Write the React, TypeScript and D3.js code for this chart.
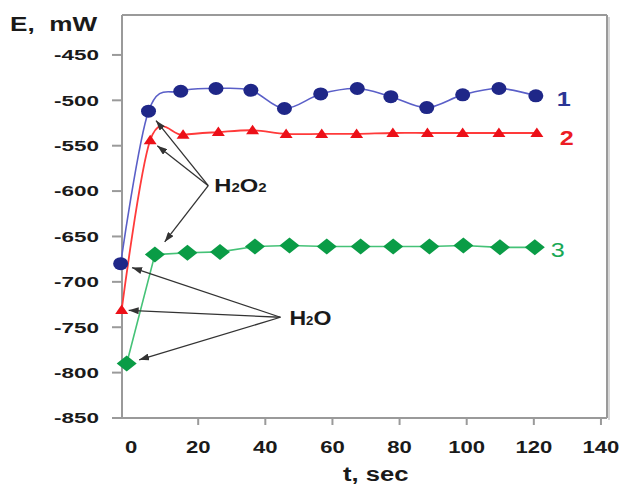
import React from 'react';
import * as d3 from 'd3';

// ---- data ----
const blueT = [-3.1, 5.2, 14.8, 25.3, 35.7, 45.7, 56.5, 67.4, 77.4, 88.1, 98.8, 109.6, 120.6];
const blueE = [-680, -512, -490, -487, -489, -509, -493, -487, -496, -508, -494, -487, -495];

const redT = [-2.8, 5.7, 15.5, 26.0, 36.2, 46.2, 56.8, 67.2, 78.0, 88.3, 98.8, 109.6, 120.9];
const redE = [-731, -544, -538, -535, -533, -537, -537, -537, -536, -536, -536, -536, -536];

const greenT = [-1.3, 7.1, 16.8, 26.5, 36.9, 47.2, 58.3, 68.4, 78.1, 88.9, 99.0, 109.9, 120.3];
const greenE = [-790, -670, -668, -667, -661, -660, -661, -661, -661, -661, -660, -662, -662];

const yTicks = [-450, -500, -550, -600, -650, -700, -750, -800, -850];
const xTicks = [0, 20, 40, 60, 80, 100, 120, 140];
const seriesLabels = ['1', '2', '3'];

// annotation anchors (data coords)
const h2o2Origin: [number, number] = [23, -594];
const h2oOrigin: [number, number] = [44.5, -739];

const FONT = 'Liberation Sans, Arial, Helvetica, sans-serif';

const x = d3.scaleLinear().domain([-2.7, 141.8]).range([122, 607]);
const y = d3.scaleLinear().domain([-850, -406]).range([418, 15]);

type Pt = [number, number];
const zip = (t: number[], e: number[]): Pt[] => t.map((v, i) => [v, e[i]]);

const blue = zip(blueT, blueE);
const red = zip(redT, redE);
const green = zip(greenT, greenE);

const smooth = d3
  .line<Pt>()
  .x((d) => x(d[0]))
  .y((d) => y(d[1]))
  .curve(d3.curveCatmullRom.alpha(0));
const straight = d3
  .line<Pt>()
  .x((d) => x(d[0]))
  .y((d) => y(d[1]));

const C = {
  blueLine: '#5a5fc8',
  blueMark: '#1f2788',
  redLine: '#ff3a3a',
  redMark: '#ec1018',
  greenLine: '#45c277',
  greenMark: '#0a9c46',
  axis: '#9a9a9a',
  arrow: '#333333',
  text: '#1a1a1a',
};

function SText(props: {
  x: number;
  y: number;
  sx: number;
  size: number;
  anchor?: string;
  fill?: string;
  weight?: string | number;
  dy?: string;
  children: React.ReactNode;
}) {
  const { x: px, y: py, sx, size, anchor = 'start', fill = C.text, weight = 'bold', dy, children } = props;
  return (
    <g transform={`translate(${px},${py}) scale(${sx},1)`}>
      <text
        x={0}
        y={0}
        dy={dy}
        textAnchor={anchor}
        fontFamily={FONT}
        fontSize={size}
        fontWeight={weight}
        fill={fill}
        style={{ whiteSpace: 'pre' }}
      >
        {children}
      </text>
    </g>
  );
}

function Arrow({ from, to, gap }: { from: Pt; to: Pt; gap: number }) {
  const x1 = x(from[0]);
  const y1 = y(from[1]);
  const x2 = x(to[0]);
  const y2 = y(to[1]);
  const len = Math.hypot(x2 - x1, y2 - y1);
  const k = (len - gap) / len;
  return (
    <line
      x1={x1}
      y1={y1}
      x2={x1 + (x2 - x1) * k}
      y2={y1 + (y2 - y1) * k}
      stroke={C.arrow}
      strokeWidth={1.3}
      markerEnd="url(#ah)"
    />
  );
}

export default function App() {
  const x0 = x.range()[0];
  const x1 = x.range()[1];
  const yB = y.range()[0];
  const yT = y.range()[1];

  const triPath = (cx: number, cy: number) =>
    `M${cx},${cy - 5.5} L${cx + 6.5},${cy + 4} L${cx - 6.5},${cy + 4} Z`;
  const diaPath = (cx: number, cy: number) =>
    `M${cx},${cy - 8} L${cx + 10},${cy} L${cx},${cy + 8} L${cx - 10},${cy} Z`;

  const lastB = blue[blue.length - 1];
  const lastR = red[red.length - 1];
  const lastG = green[green.length - 1];

  return (
    <svg
      width={620}
      height={488}
      viewBox="0 0 620 488"
      style={{ position: 'absolute', left: 0, top: 0, background: '#ffffff' }}
    >
      <defs>
        <marker
          id="ah"
          viewBox="0 0 10 7"
          refX={10}
          refY={3.5}
          markerWidth={10}
          markerHeight={7}
          markerUnits="userSpaceOnUse"
          orient="auto"
        >
          <path d="M0,0 L10,3.5 L0,7 Z" fill={C.arrow} />
        </marker>
      </defs>

      {/* frame */}
      <line x1={x1 + 2} y1={yT + 2} x2={x1 + 2} y2={yB + 2} stroke="#d6d6d6" strokeWidth={2} />
      <line x1={x0} y1={yT} x2={x1} y2={yT} stroke={C.axis} strokeWidth={2} />
      <line x1={x1} y1={yT} x2={x1} y2={yB} stroke={C.axis} strokeWidth={2} />
      <line x1={x0} y1={yT} x2={x0} y2={yB} stroke={C.axis} strokeWidth={2} />
      <line x1={x0} y1={yB} x2={x1} y2={yB} stroke={C.axis} strokeWidth={2} />

      {/* y ticks */}
      {yTicks.map((v) => (
        <g key={'y' + v}>
          <line x1={x0 - 10} x2={x0} y1={y(v)} y2={y(v)} stroke={C.axis} strokeWidth={2} />
          <SText x={99} y={y(v)} dy="0.36em" sx={1.5} size={15} anchor="end">
            {String(v)}
          </SText>
        </g>
      ))}

      {/* x ticks */}
      {xTicks.map((v) => (
        <g key={'x' + v}>
          {v !== 0 && (
            <line x1={x(v)} x2={x(v)} y1={yB} y2={yB + 7} stroke={C.axis} strokeWidth={2} />
          )}
          <SText x={x(v)} y={453} sx={1.3} size={17} anchor="middle">
            {String(v)}
          </SText>
        </g>
      ))}

      {/* axis titles */}
      <SText x={10} y={31} sx={1.34} size={19.5}>
        {'E,\u00a0\u00a0mW'}
      </SText>
      <SText x={343} y={481} sx={1.22} size={21}>
        {'t, sec'}
      </SText>

      {/* lines */}
      <path d={straight(green) || ''} fill="none" stroke={C.greenLine} strokeWidth={1.6} />
      <path d={smooth(red) || ''} fill="none" stroke={C.redLine} strokeWidth={1.8} />
      <path d={smooth(blue) || ''} fill="none" stroke={C.blueLine} strokeWidth={1.6} />

      {/* markers */}
      {green.map((d, i) => (
        <path key={'g' + i} d={diaPath(x(d[0]), y(d[1]))} fill={C.greenMark} />
      ))}
      {red.map((d, i) => (
        <path key={'r' + i} d={triPath(x(d[0]), y(d[1]))} fill={C.redMark} />
      ))}
      {blue.map((d, i) => (
        <ellipse key={'b' + i} cx={x(d[0])} cy={y(d[1])} rx={7.5} ry={6.5} fill={C.blueMark} />
      ))}

      {/* series labels */}
      <SText x={x(lastB[0]) + 21} y={y(lastB[1]) + 10} sx={1.2} size={21} fill="#2b3595">
        {seriesLabels[0]}
      </SText>
      <SText x={x(lastR[0]) + 23} y={y(lastR[1]) + 12} sx={1.2} size={21} fill="#ec1c24">
        {seriesLabels[1]}
      </SText>
      <SText x={x(lastG[0]) + 16} y={y(lastG[1]) + 10} sx={1.2} size={21} fill="#19a855" weight="normal">
        {seriesLabels[2]}
      </SText>

      {/* annotations */}
      <Arrow from={h2o2Origin} to={blue[1]} gap={12} />
      <Arrow from={h2o2Origin} to={red[1]} gap={9} />
      <Arrow from={h2o2Origin} to={green[1]} gap={16} />
      <Arrow from={h2oOrigin} to={blue[0]} gap={12} />
      <Arrow from={h2oOrigin} to={red[0]} gap={7} />
      <Arrow from={h2oOrigin} to={green[0]} gap={13} />

      <SText x={x(h2o2Origin[0]) + 6} y={y(h2o2Origin[1])} dy="0.36em" sx={1.25} size={19}>
        H<tspan fontSize={12}>2</tspan>O<tspan fontSize={12}>2</tspan>
      </SText>
      <SText x={x(h2oOrigin[0]) + 9} y={y(h2oOrigin[1])} dy="0.36em" sx={1.1} size={21}>
        H<tspan fontSize={12}>2</tspan>O
      </SText>
    </svg>
  );
}
